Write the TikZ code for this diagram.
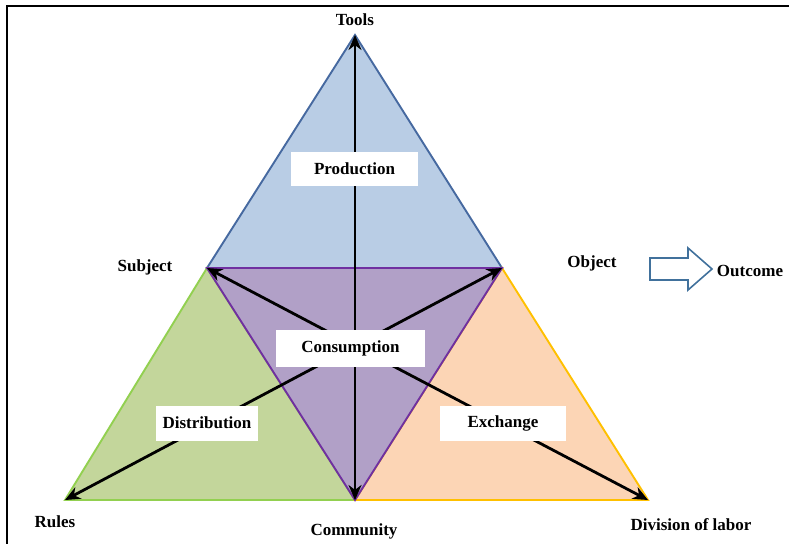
\documentclass[tikz,border=0pt]{standalone}
\usepackage{fontspec}
\setmainfont{Liberation Serif}
\usetikzlibrary{arrows.meta}
\definecolor{bluefill}{RGB}{185,205,229}
\definecolor{blueline}{RGB}{70,105,160}
\definecolor{purplefill}{RGB}{177,160,199}
\definecolor{purpleline}{RGB}{112,48,160}
\definecolor{greenfill}{RGB}{195,214,155}
\definecolor{greenline}{RGB}{146,208,80}
\definecolor{orangefill}{RGB}{252,213,181}
\definecolor{orangeline}{RGB}{255,192,0}
\definecolor{hollowline}{RGB}{65,113,156}
\tikzset{
  lbl/.style={font=\bfseries\fontsize{17}{19}\selectfont, inner sep=0pt},
  box/.style={fill=white, font=\bfseries\fontsize{17}{19}\selectfont, inner sep=0pt},
  arr/.style={line width=2.8pt, -{Stealth[length=15pt,width=13pt]}},
  tri/.style={line width=1.9pt, line join=miter}
}
\begin{document}
\begin{tikzpicture}[x=1pt,y=-1pt]
\useasboundingbox (0,0) rectangle (789,544);
% frame
\draw[line width=1.8pt] (789,6) -- (7,6) -- (7,544);
% vertices
\coordinate (T) at (355,35);
\coordinate (S) at (207,268);
\coordinate (O) at (502,268);
\coordinate (R) at (65,500);
\coordinate (C) at (355,500);
\coordinate (D) at (648,500);
\coordinate (X) at (355,346);
% triangles
\filldraw[tri, fill=bluefill, draw=blueline] (T) -- (S) -- (O) -- cycle;
\filldraw[tri, fill=greenfill, draw=greenline] (S) -- (R) -- (C) -- cycle;
\filldraw[tri, fill=orangefill, draw=orangeline] (O) -- (C) -- (D) -- cycle;
\filldraw[tri, fill=purplefill, draw=purpleline] (S) -- (O) -- (C) -- cycle;
% arrows
\draw[arr] (X) -- (T);
\draw[arr] (X) -- (C);
\draw[arr] (X) -- (S);
\draw[arr] (X) -- (O);
\draw[arr] (X) -- (R);
\draw[arr] (X) -- (D);
% boxes
\node[box, minimum width=127pt, minimum height=34pt] (prod) at (354.5,169) {Production};
\node[box, minimum width=149pt, minimum height=37pt] (cons) at (350.5,348.5) {Consumption};
\node[box, minimum width=102pt, minimum height=35pt] (dist) at (207,423) {Distribution};
\node[box, minimum width=126pt, minimum height=35pt] (exch) at (503,423) {Exchange};
% labels
\node[lbl] (tools) at (355,20) {Tools};
\node[lbl] (subj) at (145,267) {Subject};
\node[lbl] (obj) at (592,263) {Object};
\node[lbl] (outc) at (750,271) {Outcome};
\node[lbl] (rules) at (55,522) {Rules};
\node[lbl] (comm) at (354,531) {Community};
\node[lbl] (div) at (691,525) {Division of labor};
% hollow arrow
\draw[line width=1.6pt, draw=hollowline, fill=white, line join=miter]
  (650,258) -- (688,258) -- (688,248) -- (712,269) -- (688,290) -- (688,280) -- (650,280) -- cycle;
\end{tikzpicture}
\end{document}
